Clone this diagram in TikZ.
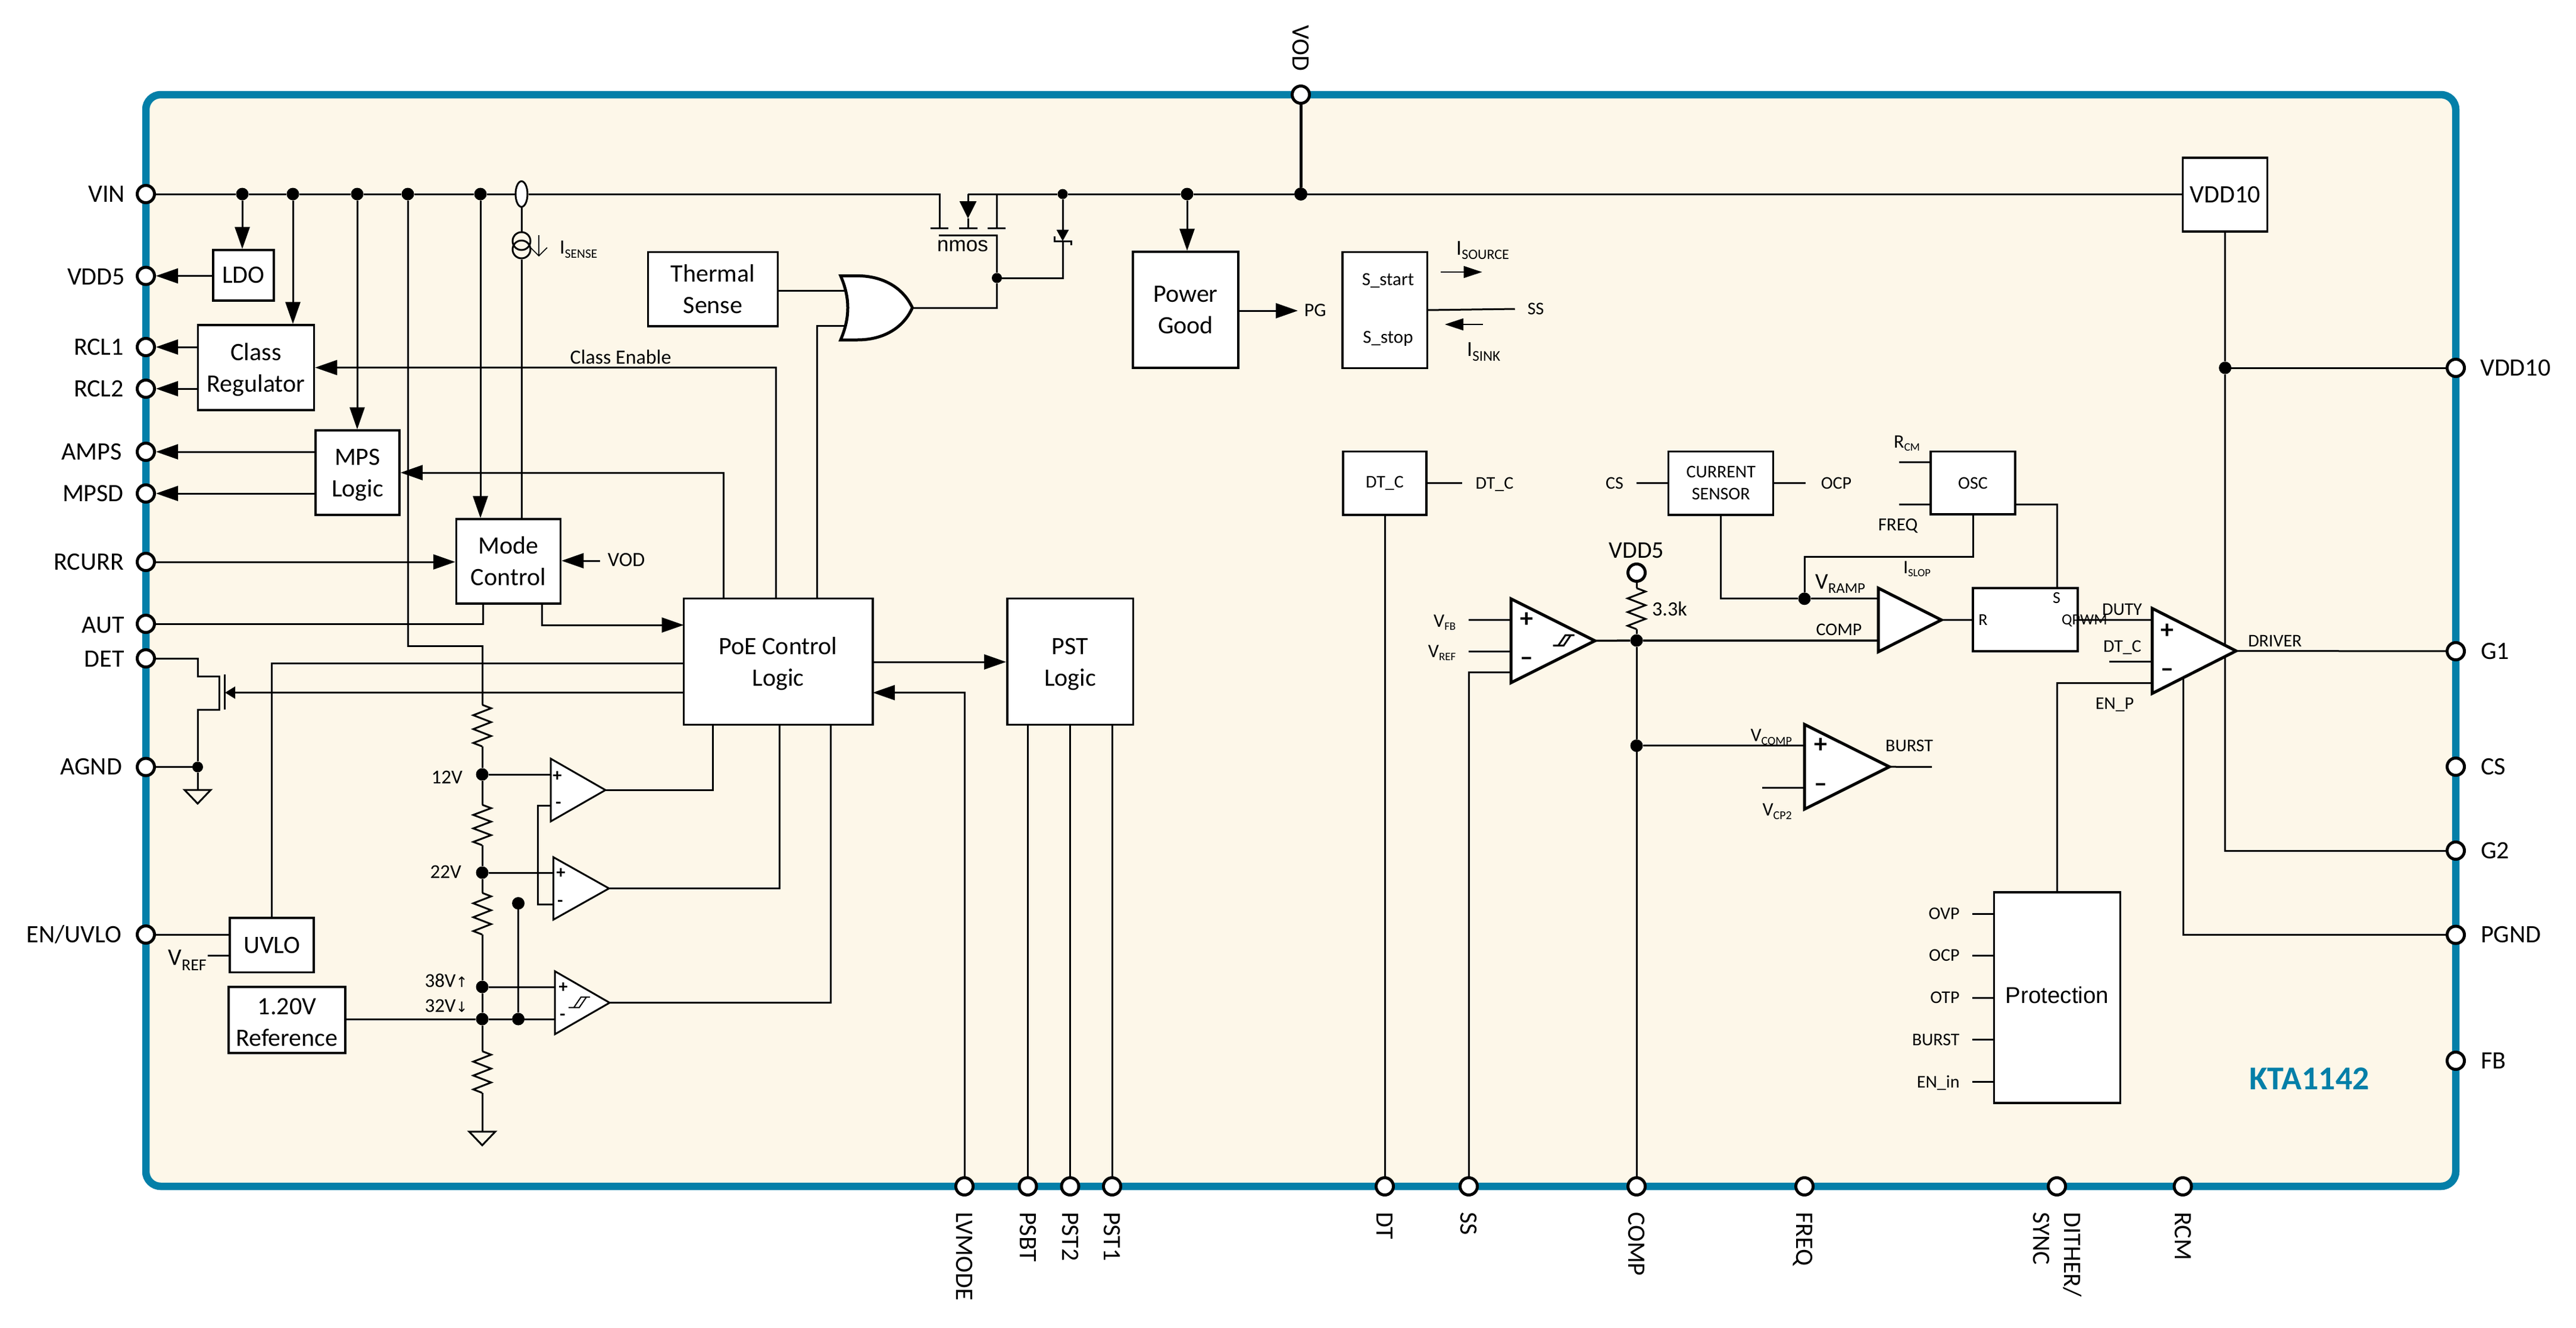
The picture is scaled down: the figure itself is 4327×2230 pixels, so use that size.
\documentclass[tikz,border=0pt]{standalone}
\usepackage{fontspec}
\setmainfont{Carlito}
\newfontfamily\arialf{Liberation Sans}
\newfontfamily\djvf{DejaVu Sans}
\usetikzlibrary{arrows.meta,shapes.geometric}
\definecolor{frameteal}{RGB}{4,127,168}
\definecolor{cream}{RGB}{253,247,233}
\pgfdeclarelayer{frame}
\pgfdeclarelayer{wires}
\pgfsetlayers{frame,wires,main}
\newcommand\vsub[4]{#3\raisebox{\dimexpr-#2pt*3/10\relax}{\fontsize{#2}{#2}\selectfont #4}}
\newcommand\dnl{\rule{0pt}{36pt}}
\tikzset{
  fs/.style={font=\fontsize{#1}{#1}\selectfont,text height={0.64*#1*1pt},text depth=0pt,inner sep=0pt},
  box/.style={draw,fill=white,line width=3.5pt,inner sep=0pt,align=center,font=\fontsize{42}{53}\selectfont},
  sbox/.style={draw,fill=white,line width=3.5pt,inner sep=0pt,align=center,font=\fontsize{30}{37}\selectfont},
  wire/.style={line width=3pt,line join=miter},
  thinw/.style={line width=1.6pt},
  arr/.style={-{Triangle[length=37pt,width=25pt]}},
  smarr/.style={-{Triangle[length=31pt,width=20pt]}},
  dot/.style={circle,fill=black,minimum size=#1,inner sep=0pt},
  pinc/.style={circle,draw,fill=white,line width=5pt,minimum size=29pt,inner sep=0pt},
  lpin/.style={fs=42,anchor=east},
  rpin/.style={fs=42,anchor=west},
  bpin/.style={fs=42,anchor=west,rotate=-90},
}
\newcommand\rzig[4]{%
  \pgfmathsetmacro\rzh{(#4-#3)/12}%
  \coordinate (#1a) at (#2,#3);%
  \coordinate (#1b) at (#2,#4);%
  \draw[wire] (#1a) -- ++(15,\rzh) -- ++(-30,{2*\rzh}) -- ++(30,{2*\rzh}) -- ++(-30,{2*\rzh}) -- ++(30,{2*\rzh}) -- ++(-30,{2*\rzh}) -- (#1b);%
}
\newcommand\cmpr[6]{%
  \pgfmathsetmacro\cmy{(#4+#5)/2}%
  \draw[line width=#1pt,fill=white] (#3,#4) -- (#6,\cmy) -- (#3,#5) -- cycle;%
  \coordinate (#2) at (#6,\cmy);%
}
\newcommand\hysym[3]{%
  \draw[line width=#3pt,shift={(#1,#2)}] (-18,8.5) -- (0,8.5) -- (12,-9) (-9,8.5) -- (3,-9) -- (18,-9);%
}
\newcommand\gndsym[2]{%
  \draw[wire,fill=cream] (#1-22,#2) -- (#1+22,#2) -- (#1,#2+23) -- cycle;%
}
\begin{document}
\begin{tikzpicture}[x=1pt,y=-1pt]
\useasboundingbox (0,0) rectangle (4327,2230);
\begin{pgfonlayer}{frame}
\draw[line width=12.5pt,draw=frameteal,fill=cream,rounded corners=25pt] (245,159) rectangle (4125,1993);
\end{pgfonlayer}

% ---- pins
\node[pinc] (pVIN) at (245,326) {};
\node[pinc] (pVDD5) at (245,463.5) {};
\node[pinc] (pRCL1) at (245,583) {};
\node[pinc] (pRCL2) at (245,653) {};
\node[pinc] (pAMPS) at (245,759) {};
\node[pinc] (pMPSD) at (245,829) {};
\node[pinc] (pRCURR) at (245,944) {};
\node[pinc] (pAUT) at (245,1048) {};
\node[pinc] (pDET) at (245,1106) {};
\node[pinc] (pAGND) at (245,1288.5) {};
\node[pinc] (pEN) at (245,1570) {};
\node[pinc] (pVOD) at (2185,159) {};
\node[pinc] (pVDD10) at (4125,618) {};
\node[pinc] (pG1) at (4125,1094) {};
\node[pinc] (pCS) at (4125,1288) {};
\node[pinc] (pG2) at (4125,1429) {};
\node[pinc] (pPGND) at (4125,1570.5) {};
\node[pinc] (pFB) at (4125,1782) {};
\node[pinc] (pLVMODE) at (1620,1993) {};
\node[pinc] (pPSBT) at (1726.5,1993) {};
\node[pinc] (pPST2) at (1797.5,1993) {};
\node[pinc] (pPST1) at (1868,1993) {};
\node[pinc] (pDT) at (2326,1993) {};
\node[pinc] (pSS) at (2467,1993) {};
\node[pinc] (pCOMP) at (2749,1993) {};
\node[pinc] (pFREQ) at (3031,1993) {};
\node[pinc] (pDITHER) at (3455,1993) {};
\node[pinc] (pRCM) at (3666.5,1993) {};
\node[pinc] (pVDDi) at (2749,962) {};

\node[lpin] (lVIN) at (210,326) {VIN};
\node[lpin] (lVDD5) at (210,465) {VDD5};
\node[lpin] (lRCL1) at (208,583) {RCL1};
\node[lpin] (lRCL2) at (208,653) {RCL2};
\node[lpin] (lAMPS) at (205,759) {AMPS};
\node[lpin] (lMPSD) at (208,829) {MPSD};
\node[lpin] (lRCURR) at (208,944) {RCURR};
\node[lpin] (lAUT) at (209,1050) {AUT};
\node[lpin] (lDET) at (209,1107) {DET};
\node[lpin] (lAGND) at (205,1288) {AGND};
\node[lpin] (lEN) at (204,1570) {EN/UVLO};
\node[bpin] (lVOD) at (2185,42) {VOD};
\node[rpin] (lVDD10) at (4166,618) {VDD10};
\node[rpin] (lG1) at (4167,1094) {G1};
\node[rpin] (lCS) at (4167,1288) {CS};
\node[rpin] (lG2) at (4167,1429) {G2};
\node[rpin] (lPGND) at (4167,1570) {PGND};
\node[rpin] (lFB) at (4167,1782) {FB};
\node[bpin] (lLVMODE) at (1620,2036) {LVMODE};
\node[bpin] (lPSBT) at (1726.5,2036) {PSBT};
\node[bpin] (lPST2) at (1797.5,2036) {PST2};
\node[bpin] (lPST1) at (1868,2036) {PST1};
\node[bpin] (lDT) at (2326,2036) {DT};
\node[bpin] (lSS) at (2467,2036) {SS};
\node[bpin] (lCOMP) at (2749,2036) {COMP};
\node[bpin] (lFREQ) at (3031,2036) {FREQ};
\node[bpin] (lDITHER) at (3481,2036) {DITHER/};
\node[bpin] (lSYNC) at (3429,2036) {SYNC};
\node[bpin] (lRCM) at (3666.5,2036) {RCM};

% ---- boxes
\node[box,minimum width=102pt,minimum height=85pt] (ldo) at (409,462.5) {LDO};
\node[box,minimum width=195pt,minimum height=143pt] (clsreg) at (430,617.5) {\dnl Class\\Regulator};
\node[box,minimum width=141pt,minimum height=142pt] (mps) at (600.5,794) {\dnl MPS\\Logic};
\node[box,minimum width=175pt,minimum height=142pt] (mode) at (854,943) {Mode\\Control};
\node[box,minimum width=218pt,minimum height=124.5pt] (therm) at (1197.5,485.5) {Thermal\\Sense};
\node[box,minimum width=317.5pt,minimum height=212pt] (poe) at (1307,1111.7) {\dnl PoE Control\\Logic};
\node[box,minimum width=211.5pt,minimum height=212pt] (pst) at (1797.5,1111.7) {\dnl PST\\Logic};
\node[box,minimum width=177pt,minimum height=195pt] (pgood) at (1991.5,520.5) {Power\\Good};
\node[box,minimum width=142pt,minimum height=124pt] (vdd10) at (3737.6,327) {VDD10};
\node[box,minimum width=141pt,minimum height=91.5pt] (uvlo) at (456.7,1587.7) {UVLO};
\node[box,minimum width=196pt,minimum height=111pt] (ref) at (482,1713.5) {\dnl 1.20V\\Reference};
\node[sbox,minimum width=142.7pt,minimum height=194.7pt] (softs) at (2326.3,521) {};
\node[fs=31] (lSstart) at (2331.5,470) {S\_start};
\node[fs=31] (lSstop) at (2331.5,567) {S\_stop};
\node[sbox,minimum width=140pt,minimum height=106.5pt] (dtc) at (2326,811.7) {DT\_C};
\node[sbox,minimum width=176pt,minimum height=106.5pt] (sensor) at (2890.7,811.7) {CURRENT\\SENSOR};
\node[sbox,minimum width=142pt,minimum height=105.5pt] (osc) at (3314,811.4) {OSC};
\node[sbox,minimum width=176pt,minimum height=106pt] (sr) at (3402,1041) {};
\node[sbox,minimum width=212pt,minimum height=354pt] (prot) at (3455.6,1676) {};
\node[fs=38.5,font=\fontsize{38.5}{44}\arialf\selectfont] (lProt) at (3455.6,1673) {Protection};

% ---- junction dots
\node[dot=21pt] (jA) at (407,326) {};
\node[dot=21pt] (jB) at (492,326) {};
\node[dot=21pt] (jC) at (600,326) {};
\node[dot=21pt] (jD) at (685,326) {};
\node[dot=21pt] (jE) at (807,326) {};
\node[dot=17pt] (jZ) at (1785,326) {};
\node[dot=21pt] (jPG) at (1994,326) {};
\node[dot=22pt] (jVOD) at (2185,326) {};
\node[dot=17pt] (jGate) at (1674.5,467) {};
\node[dot=18pt] (jAG) at (332,1288.5) {};
\node[dot=21pt] (j12) at (810,1301) {};
\node[dot=21pt] (j22) at (810,1466) {};
\node[dot=21pt] (j38) at (810,1658) {};
\node[dot=21pt] (j32) at (810,1712) {};
\node[dot=21pt] (jF) at (870.6,1517.5) {};
\node[dot=21pt] (jG) at (870.6,1712) {};
\node[dot=21pt] (jH) at (2749,1076) {};
\node[dot=21pt] (jI) at (2749,1252.7) {};
\node[dot=21pt] (jR) at (3031,1005.8) {};
\node[dot=21pt] (jV10) at (3737.6,618) {};

% ---- sense element
\node[ellipse,draw,fill=white,line width=3pt,minimum width=20pt,minimum height=43pt,inner sep=0pt] (sense) at (876,326) {};
\node[circle,draw,line width=3pt,minimum size=30pt,inner sep=0pt] (isA) at (876,405) {};
\node[circle,draw,line width=3pt,minimum size=30pt,inner sep=0pt] (isB) at (876,419) {};
\coordinate (isArrT) at (905,395);
\coordinate (isArrB) at (905,431);
\draw[thinw,-{Straight Barb[length=14pt,width=28pt]}] (isArrT) -- (isArrB);
\node[fs=34,anchor=west] (lISENSE) at (940,416) {\vsub{34}{21.5}{I}{SENSE}};

% ---- comparators
\cmpr{3}{cA}{925}{1274.5}{1380}{1017}
\cmpr{3}{cB}{929.5}{1440}{1545}{1023}
\cmpr{3}{cC}{932}{1631.6}{1737.5}{1024}
\cmpr{5}{cH}{2538}{1006}{1147}{2679}
\cmpr{5}{cR}{3155}{988}{1095}{3261}
\cmpr{5}{cK}{3031}{1217}{1359.4}{3173.6}
\cmpr{5}{cP}{3615}{1022}{1165}{3756}
\hysym{973}{1684}{2}
\hysym{2626.5}{1076}{3}
\node[font=\fontsize{30}{30}\selectfont\bfseries,inner sep=0pt] (sA1) at (936,1304) {+};
\node[font=\fontsize{30}{30}\selectfont\bfseries,inner sep=0pt] (sA2) at (938,1352) {-};
\node[font=\fontsize{30}{30}\selectfont\bfseries,inner sep=0pt] (sB1) at (942,1467) {+};
\node[font=\fontsize{30}{30}\selectfont\bfseries,inner sep=0pt] (sB2) at (941,1517) {-};
\node[font=\fontsize{30}{30}\selectfont\bfseries,inner sep=0pt] (sC1) at (946,1659) {+};
\node[font=\fontsize{30}{30}\selectfont\bfseries,inner sep=0pt] (sC2) at (945,1708) {-};
\node[font=\fontsize{44}{44}\selectfont\bfseries,inner sep=0pt] (sH1) at (2564,1041) {+};
\node[font=\fontsize{44}{44}\selectfont\bfseries,inner sep=0pt] (sH2) at (2564,1111) {–};
\node[font=\fontsize{44}{44}\selectfont\bfseries,inner sep=0pt] (sK1) at (3058,1252.7) {+};
\node[font=\fontsize{44}{44}\selectfont\bfseries,inner sep=0pt] (sK2) at (3058,1323) {–};
\node[font=\fontsize{44}{44}\selectfont\bfseries,inner sep=0pt] (sP1) at (3640,1060) {+};
\node[font=\fontsize{44}{44}\selectfont\bfseries,inner sep=0pt] (sP2) at (3640,1130) {–};

% ---- OR gate
\draw[line width=5pt,fill=white] (1412,463.4) -- (1440,463.4) .. controls (1485,463.4) and (1518,485) .. (1532.5,517) .. controls (1518,550) and (1485,571) .. (1440,571) -- (1412,571) .. controls (1428,534) and (1428,500) .. (1412,463.4) -- cycle;
\coordinate (orOut) at (1532.5,517);
\coordinate (orA) at (1420,488);
\coordinate (orB) at (1420,547);

% ---- free points
\coordinate (poeA) at (1303,1005.7);
\coordinate (poeB) at (1215,1005.7);
\coordinate (poeG) at (1372,1005.7);
\coordinate (poeC) at (1148.5,1050);
\coordinate (poeJ) at (1148.5,1114);
\coordinate (poeI) at (1148.5,1163.6);
\coordinate (poeH) at (1466,1163.6);
\coordinate (poeD) at (1197.4,1217.7);
\coordinate (poeE) at (1309,1217.7);
\coordinate (poeF) at (1395,1217.7);
\coordinate (poeO) at (1466,1112);
\coordinate (vodIn) at (1008,942);
\coordinate (modeA) at (811.6,1014);
\coordinate (modeB) at (910.5,1014);
\coordinate (chA) at (810,1085);
\coordinate (detA) at (332,1136);
\coordinate (detB) at (368,1136);
\coordinate (detC) at (368,1192);
\coordinate (detD) at (332,1192);
\coordinate (gateTip) at (378,1163.6);
\coordinate (gndA) at (332,1327);
\coordinate (gndB) at (810,1901);
\coordinate (vrefA) at (349,1605);
\coordinate (c1p) at (925,1301);
\coordinate (c1m) at (925,1353);
\coordinate (fb12) at (903.5,1353);
\coordinate (c2p) at (929.5,1466);
\coordinate (c2m) at (929.5,1519);
\coordinate (c3p) at (932,1658);
\coordinate (c3m) at (932,1712);
\coordinate (mosLt) at (1578,326);
\coordinate (mosLb) at (1578,383);
\coordinate (mosMt) at (1626,326);
\coordinate (mosMa) at (1626,367);
\coordinate (mosMb) at (1626,383);
\coordinate (mosRt) at (1674.5,326);
\coordinate (mosRb) at (1674.5,383);
\coordinate (gateT) at (1674.5,395);
\coordinate (gateL) at (1577,395);
\coordinate (zenK) at (1785,405);
\coordinate (pgTip) at (2180,522);
\coordinate (ssA) at (2397.7,521);
\coordinate (ssB) at (2544.7,519);
\coordinate (srcA) at (2420,457);
\coordinate (srcB) at (2489.6,457);
\coordinate (snkA) at (2491,545);
\coordinate (snkB) at (2427,545);
\coordinate (dtcOut) at (2456,811.7);
\coordinate (csIn) at (2748.6,811.7);
\coordinate (ocpOut) at (3032.7,811.7);
\coordinate (rcmIn) at (3190,776.8);
\coordinate (frqIn) at (3190,847);
\coordinate (rcmB) at (3243,776.8);
\coordinate (frqB) at (3243,847);
\coordinate (oscR) at (3385,847);
\coordinate (srS) at (3455,988);
\coordinate (rampTop) at (3031,935.5);
\coordinate (rP) at (3155,1005.8);
\coordinate (rM) at (3155,1076);
\coordinate (vfbA) at (2466.6,1041);
\coordinate (vfbB) at (2538,1041);
\coordinate (vrfA) at (2466.6,1094);
\coordinate (vrfB) at (2538,1094);
\coordinate (hM) at (2538,1129.5);
\coordinate (kP) at (3031,1252.7);
\coordinate (kMa) at (2960,1323);
\coordinate (kMb) at (3031,1323);
\coordinate (kOut) at (3245,1288.4);
\coordinate (pP) at (3615,1041);
\coordinate (dtA) at (3543,1111.7);
\coordinate (dtB) at (3615,1111.7);
\coordinate (pM) at (3615,1147);
\coordinate (cPg) at (3667,1130);

% ---- resistors
\rzig{r1}{810}{1184}{1254}
\rzig{r2}{810}{1352}{1420}
\rzig{r3}{810}{1500}{1570}
\rzig{r4}{810}{1766}{1836}
\rzig{r5}{2749}{988}{1057}

% ---- wires
\begin{pgfonlayer}{wires}
\draw[wire] (pVIN) -- (jA) -- (jB) -- (jC) -- (jD) -- (jE) -- (sense);
\draw[wire] (sense) -- (mosLt) -- (mosLb);
\draw[wire] (mosMb) -- (mosMa);
\draw[wire,-{Triangle[length=29pt,width=28pt]}] (mosMt) -- (mosMa);
\draw[wire] (mosMt) -- (mosRt) -- (jZ) -- (jPG) -- (jVOD) -- (vdd10.west |- jVOD);
\draw[wire] (mosRt) -- (mosRb);
\draw[wire] (gateL) -- (gateT) -- (jGate);
\draw[wire] (orOut) -| (jGate);
\draw[wire] (jGate) -| (zenK);
\draw[wire,-{Triangle[length=19pt,width=20pt]}] (jZ) -- (zenK);
\draw[line width=5pt] (jVOD) -- (pVOD);
\draw[wire,arr] (jA) -- (jA |- ldo.north);
\draw[wire,arr] (jB) -- (jB |- clsreg.north);
\draw[wire,arr] (jC) -- (jC |- mps.north);
\draw[wire,arr] (jE) -- (jE |- mode.north);
\draw[wire,arr] (jPG) -- (jPG |- pgood.north);
\draw[wire,arr] (ldo.west |- pVDD5) -- (pVDD5);
\draw[wire,arr] (clsreg.west |- pRCL1) -- (pRCL1);
\draw[wire,arr] (clsreg.west |- pRCL2) -- (pRCL2);
\draw[wire,arr] (mps.west |- pAMPS) -- (pAMPS);
\draw[wire,arr] (mps.west |- pMPSD) -- (pMPSD);
\draw[wire,arr] (pRCURR) -- (mode.west |- pRCURR);
\draw[wire,arr] (vodIn) -- (mode.east |- vodIn);
\draw[wire,arr] (poeA) |- (clsreg.east);
\draw[wire,arr] (poeB) |- (mps.east);
\draw[wire] (sense) -- (isA);
\draw[wire] (isB) -- (isB |- mode.north);
\draw[wire] (pAUT) -| (modeA);
\draw[wire,arr] (modeB) |- (poeC);
\draw[wire] (jD) |- (chA) -- (r1a);
\draw[wire] (r1b) -- (j12) -- (r2a);
\draw[wire] (r2b) -- (j22) -- (r3a);
\draw[wire] (r3b) -- (j38) -- (j32) -- (r4a);
\draw[wire] (r4b) -- (gndB);
\draw[wire] (pDET) -| (detA) -- (detB) -- (detC) -- (detD) -- (jAG);
\draw[wire] (pAGND) -- (jAG) -- (gndA);
\draw[wire,-{Triangle[length=17pt,width=20pt]}] (poeI) -- (gateTip);
\draw[wire] (uvlo.north) |- (poeJ);
\draw[wire] (pEN) -- (uvlo.west |- pEN);
\draw[wire] (vrefA) -- (uvlo.west |- vrefA);
\draw[wire] (ref.east |- j32) -- (j32);
\draw[wire] (j12) -- (c1p);
\draw[wire] (c1m) -- (fb12) |- (c2m);
\draw[wire] (j22) -- (c2p);
\draw[wire] (j38) -- (c3p);
\draw[wire] (j32) -- (jG) -- (c3m);
\draw[wire] (jF) -- (jG);
\draw[wire] (cA) -| (poeD);
\draw[wire] (cB) -| (poeE);
\draw[wire] (cC) -| (poeF);
\draw[wire] (therm.east |- orA) -- (orA);
\draw[wire] (poeG) |- (orB);
\draw[wire,arr] (poeO) -- (pst.west |- poeO);
\draw[wire,arr] (pLVMODE) |- (poeH);
\draw[wire] (pPSBT) -- (pPSBT |- pst.south);
\draw[wire] (pPST2) -- (pPST2 |- pst.south);
\draw[wire] (pPST1) -- (pPST1 |- pst.south);
\draw[wire,arr] (pgood.east |- pgTip) -- (pgTip);
\draw[wire] (ssA) -- (ssB);
\draw[thinw,smarr] (srcA) -- (srcB);
\draw[thinw,smarr] (snkA) -- (snkB);
\draw[wire] (dtc.east |- dtcOut) -- (dtcOut);
\draw[wire] (dtc.south) -- (pDT);
\draw[wire] (csIn) -- (sensor.west |- csIn);
\draw[wire] (sensor.east |- ocpOut) -- (ocpOut);
\draw[wire] (sensor.south) |- (jR);
\draw[wire] (jR) -- (rP);
\draw[wire] (jR) -- (rampTop) -| (osc.south);
\draw[wire] (rcmIn) -- (rcmB);
\draw[wire] (frqIn) -- (frqB);
\draw[wire] (oscR) -| (srS);
\draw[wire] (cR) -- (sr.west |- cR);
\draw[wire] (pVDDi) -- (r5a);
\draw[wire] (r5b) -- (jH);
\draw[line width=3.5pt] (cH) -- (jH) -- (rM);
\draw[wire] (jH) -- (jI) -- (pCOMP);
\draw[wire] (jI) -- (kP);
\draw[wire] (vfbA) -- (vfbB);
\draw[wire] (vrfA) -- (vrfB);
\draw[wire] (pSS) |- (hM);
\draw[wire] (kMa) -- (kMb);
\draw[wire] (cK) -- (kOut);
\draw[wire] (sr.east |- pP) -- (pP);
\draw[wire] (dtA) -- (dtB);
\draw[wire] (prot.north) |- (pM);
\draw[wire] (cP) -- (pG1);
\draw[wire] (vdd10.south) -- (jV10) -- (pVDD10);
\draw[wire] (jV10) |- (pG2);
\draw[wire] (cPg) |- (pPGND);
\foreach \y in {1535,1605,1676,1746.7,1817.7}{
  \coordinate (stub) at (3313,\y);
  \draw[wire] (stub) -- (prot.west |- stub);
}
\end{pgfonlayer}

% ---- MOS bars, zener, gate bars, grounds
\draw[wire] (1563,383) -- (1593,383) (1611,383) -- (1642,383) (1659,383) -- (1689,383);
\draw[wire] (1771,397) -- (1771,405) -- (1799,405) -- (1799,412);
\draw[wire] (377,1133) -- (377,1192);
\gndsym{332}{1327}
\gndsym{810}{1901}

% ---- labels
\node[fs=35,anchor=center,font=\fontsize{35}{35}\arialf\selectfont] (lnmos) at (1617,411) {nmos};
\node[fs=34] (lClassEn) at (1042.6,601) {Class Enable};
\node[fs=34,anchor=west] (lVODi) at (1020.7,941) {VOD};
\node[fs=40,anchor=east] (lVREF) at (347,1609) {\vsub{40}{28}{V}{REF}};
\node[fs=33,anchor=east] (l12) at (777,1306) {12V};
\node[fs=33,anchor=east] (l22) at (775,1465) {22V};
\node[fs=33,anchor=east] (l38) at (786,1648) {38V{\djvf\fontsize{24}{24}\selectfont ↑}};
\node[fs=33,anchor=east] (l32) at (786,1690) {32V{\djvf\fontsize{24}{24}\selectfont ↓}};
\node[fs=32,anchor=west] (lPG) at (2190.7,521) {PG};
\node[fs=30,anchor=west] (lSS) at (2565.7,519) {SS};
\node[fs=36,anchor=west] (lISRC) at (2446,417) {\vsub{36}{24}{I}{SOURCE}};
\node[fs=36,anchor=west] (lISNK) at (2464,587) {\vsub{36}{25}{I}{SINK}};
\node[fs=30,anchor=west] (lDTC) at (2478.5,811.7) {DT\_C};
\node[fs=30] (lCSi) at (2712,811.7) {CS};
\node[fs=30,anchor=west] (lOCP) at (3058.6,811.7) {OCP};
\node[fs=32] (lRCMi) at (3203,742) {\vsub{32}{19}{R}{CM}};
\node[fs=31] (lFREQi) at (3188,882) {FREQ};
\node[fs=40] (lVDD5i) at (2749,924.5) {VDD5};
\node[fs=34,anchor=west] (l33k) at (2775,1023.7) {3.3k};
\node[fs=38,anchor=west] (lVRAMP) at (3049,977) {\vsub{38}{25}{V}{RAMP}};
\node[fs=32] (lISLOP) at (3220,953) {\vsub{32}{18.5}{I}{SLOP}};
\node[fs=30] (lCOMPi) at (3089,1057.6) {COMP};
\node[fs=32,anchor=east] (lVFB) at (2445.5,1043) {\vsub{32}{19}{V}{FB}};
\node[fs=32,anchor=east] (lVREFi) at (2445.5,1094) {\vsub{32}{19}{V}{REF}};
\node[fs=32,anchor=east] (lVCOMP) at (3010,1235) {\vsub{32}{20}{V}{COMP}};
\node[fs=32,anchor=east] (lVCP2) at (3010,1360) {\vsub{32}{20}{V}{CP2}};
\node[fs=30,anchor=west] (lBURSTo) at (3167,1252.7) {BURST};
\node[fs=28] (lS) at (3454.5,1004.6) {S};
\node[fs=28] (lR) at (3331,1042) {R};
\node[fs=26,anchor=west] (lQPWM) at (3463,1041) {QPWM};
\node[fs=30] (lDUTY) at (3564.5,1023.5) {DUTY};
\node[fs=30] (lDTCp) at (3565,1086) {DT\_C};
\node[fs=30] (lENP) at (3552,1182) {EN\_P};
\node[fs=30,anchor=west] (lDRV) at (3776,1076.5) {DRIVER};
\node[fs=30,anchor=east] (lOVP) at (3291.7,1535) {OVP};
\node[fs=30,anchor=east] (lOCPp) at (3291.7,1605) {OCP};
\node[fs=30,anchor=east] (lOTP) at (3291.7,1676) {OTP};
\node[fs=30,anchor=east] (lBURSTp) at (3291.7,1746.7) {BURST};
\node[fs=30,anchor=east] (lENin) at (3291.7,1817.7) {EN\_in};
\node[fs=56,anchor=center,font=\fontsize{56}{56}\selectfont\bfseries,text=frameteal] (lKTA) at (3879,1813) {KTA1142};
\end{tikzpicture}
\end{document}
